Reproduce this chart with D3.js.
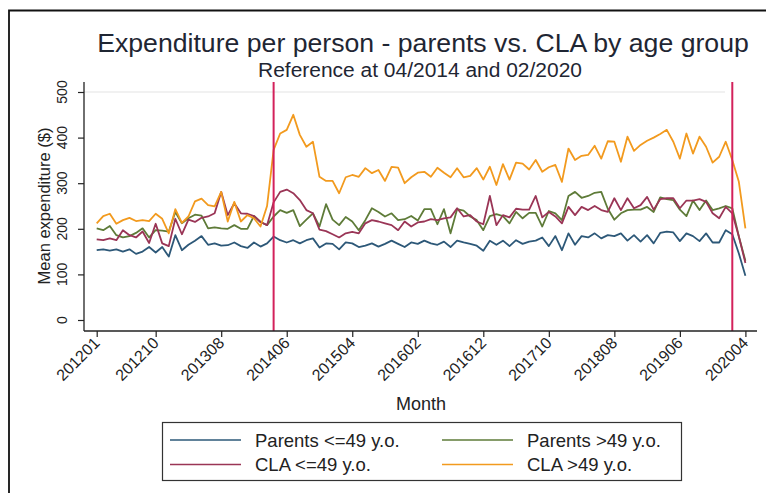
<!DOCTYPE html>
<html>
<head>
<meta charset="utf-8">
<script src="https://cdn.jsdelivr.net/npm/d3@7"></script>
<style>
  body { margin: 0; background: #fff; }
  svg { display: block; font-family: "Liberation Sans", Arial, sans-serif; }
</style>
</head>
<body>
<div id="chart"></div>
<script>
// monthly means, Jan 2012 .. Apr 2020
var parentsYoung = [153,155,152,155,150,155,145,150,160,148,160,139,186,153,165,174,184,165,168,
  163,164,170,162,158,170,161,168,
  183,175,170,175,168,175,179,159,168,167,155,170,
  168,160,163,168,161,167,174,167,160,170,167,174,168,165,172,160,174,170,167,163,
  152,174,165,174,162,175,167,172,174,181,162,184,153,190,165,184,181,190,179,186,
  184,190,174,186,172,186,168,191,194,192,173,190,184,173,190,170,170,197,188,146,97];
var parentsOld = [201,197,206,186,181,184,191,201,181,197,196,194,237,212,223,231,229,201,203,
  201,200,208,200,200,228,215,208,
  227,241,235,241,206,220,234,205,254,220,208,226,
  216,197,219,245,237,227,234,219,221,228,218,243,243,210,243,190,243,240,227,219,
  197,228,232,228,212,237,223,235,235,205,239,234,219,272,281,268,272,279,281,244,
  220,234,241,242,242,248,237,269,265,263,242,228,262,241,262,241,245,250,245,183,130];
var claYoung = [177,175,179,175,197,186,181,194,169,211,168,162,222,188,220,215,224,227,234,
  281,230,256,234,233,228,215,208,
  258,281,286,278,263,241,234,198,195,188,181,190,
  193,190,212,219,216,212,208,197,216,205,214,216,221,219,223,225,245,227,230,216,
  210,272,208,230,225,244,242,242,272,225,237,227,212,248,230,248,241,250,241,237,
  267,241,267,245,252,270,242,265,267,267,245,262,262,265,259,234,223,248,234,183,125];
var claOld = [212,228,233,211,219,224,217,219,217,233,222,190,243,213,227,260,266,252,249,
  281,216,259,216,230,223,205,250,
  373,409,417,450,406,380,391,314,305,305,278,313,
  318,314,333,322,329,305,336,334,300,313,323,325,314,334,323,313,333,313,316,333,
  308,336,296,342,308,345,343,330,351,325,335,340,303,376,351,360,362,382,354,392,
  391,347,402,371,384,393,400,408,417,391,354,409,365,402,380,345,358,391,351,303,201];

var seriesNames = ["Parents <=49 y.o.", "Parents >49 y.o.", "CLA <=49 y.o.", "CLA >49 y.o."];
var seriesColors = ["#2d5878", "#5e7b38", "#9a3556", "#f29a1e"];
var xTickLabels = ["201201","201210","201308","201406","201504","201602","201612","201710","201808","201906","202004"];
var yTicks = [0,100,200,300,400,500];
var refMonths = ["201404","202002"];

// month keys 201201 .. 202004
var months = d3.range(parentsYoung.length).map(function(i) {
    var yr = 2012 + Math.floor(i / 12);
    var mo = i % 12 + 1;
    return yr + (mo < 10 ? "0" : "") + mo;
});

var width = 766, height = 493;
var svg = d3.select("#chart").append("svg")
    .attr("width", width)
    .attr("height", height);

//outer frame, only top and left edges show in the picture
svg.append("path")
    .attr("d", "M9,500 V10.5 H780")
    .attr("fill", "none")
    .attr("stroke", "#111")
    .attr("stroke-width", 1.8);

var plot = {left: 84, right: 757, top: 82, bottom: 331};

var x = d3.scalePoint()
    .domain(months)
    .range([96.7, 745.4]);

var y = d3.scaleLinear()
    .domain([0, 500])
    .range([320, 92]);

// faint grid line at the top label
svg.append("line")
    .attr("x1", plot.left).attr("x2", 725)
    .attr("y1", y(500)).attr("y2", y(500))
    .attr("stroke", "#ececec")
    .attr("stroke-width", 1.5);

//series lines
var data = [parentsYoung, parentsOld, claYoung, claOld];
var line = d3.line()
    .x(function(d, i) { return x(months[i]); })
    .y(function(d) { return y(d); });

svg.append("g").selectAll("path")
    .data(data)
    .enter()
    .append("path")
    .attr("d", line)
    .attr("fill", "none")
    .attr("stroke", function(d, i) { return seriesColors[i]; })
    .attr("stroke-width", 1.8)
    .attr("stroke-linejoin", "round");

//reference lines
svg.append("g").selectAll("line")
    .data(refMonths)
    .enter()
    .append("line")
    .attr("x1", function(d) { return x(d); })
    .attr("x2", function(d) { return x(d); })
    .attr("y1", plot.top)
    .attr("y2", plot.bottom)
    .attr("stroke", "#d3215b")
    .attr("stroke-width", 2);

//axes
var xAxis = svg.append("g")
    .attr("transform", "translate(0," + plot.bottom + ")")
    .call(d3.axisBottom(x).tickValues(xTickLabels).tickSize(6).tickFormat(""));
xAxis.select(".domain").remove();
xAxis.selectAll(".tick line").attr("stroke", "#222").attr("stroke-width", 1.2);

svg.append("g").selectAll("text")
    .data(xTickLabels)
    .enter()
    .append("text")
    .attr("transform", function(d) { return "translate(" + (x(d) + 4) + "," + (plot.bottom + 13) + ") rotate(-45)"; })
    .attr("text-anchor", "end")
    .attr("font-size", 16)
    .attr("fill", "#222")
    .text(function(d) { return d; });

var yAxis = svg.append("g")
    .attr("transform", "translate(" + plot.left + ",0)")
    .call(d3.axisLeft(y).tickValues(yTicks).tickSize(6).tickFormat(""));
yAxis.select(".domain").remove();
yAxis.selectAll(".tick line").attr("stroke", "#222").attr("stroke-width", 1.2);

svg.append("g").selectAll("text")
    .data(yTicks)
    .enter()
    .append("text")
    .attr("transform", function(d) { return "translate(" + 67 + "," + y(d) + ") rotate(-90)"; })
    .attr("text-anchor", "middle")
    .attr("font-size", 14)
    .attr("fill", "#222")
    .text(function(d) { return d; });

svg.append("line")
    .attr("x1", plot.left).attr("x2", plot.right)
    .attr("y1", plot.bottom).attr("y2", plot.bottom)
    .attr("stroke", "#222").attr("stroke-width", 1.3);
svg.append("line")
    .attr("x1", plot.left).attr("x2", plot.left)
    .attr("y1", plot.top).attr("y2", plot.bottom)
    .attr("stroke", "#222").attr("stroke-width", 1.3);

//axis titles
svg.append("text")
    .attr("transform", "translate(50,206) rotate(-90)")
    .attr("text-anchor", "middle")
    .attr("font-size", 16.5)
    .attr("fill", "#222")
    .text("Mean expenditure ($)");

svg.append("text")
    .attr("x", 421)
    .attr("y", 410)
    .attr("text-anchor", "middle")
    .attr("font-size", 18)
    .attr("fill", "#222")
    .text("Month");

//titles, sized to the widths in the picture
function fitText(sel, target) {
    var w = sel.node().getComputedTextLength();
    var fs = +sel.attr("font-size");
    sel.attr("font-size", fs * target / w);
}
var title = svg.append("text")
    .attr("x", 423)
    .attr("y", 52)
    .attr("text-anchor", "middle")
    .attr("font-size", 26)
    .attr("fill", "#1f2633")
    .text("Expenditure per person - parents vs. CLA by age group");
fitText(title, 652);

var subtitle = svg.append("text")
    .attr("x", 420)
    .attr("y", 77)
    .attr("text-anchor", "middle")
    .attr("font-size", 20)
    .attr("fill", "#1f2633")
    .text("Reference at 04/2014 and 02/2020");
fitText(subtitle, 324);

//legend
var legend = svg.append("g");
legend.append("rect")
    .attr("x", 162.5).attr("y", 422.5)
    .attr("width", 519).attr("height", 58)
    .attr("fill", "#fff")
    .attr("stroke", "#333")
    .attr("stroke-width", 1.2);

var legendCols = [170, 442];
var legendRows = [440, 464.5];
var items = legend.selectAll("g.item")
    .data(seriesNames)
    .enter()
    .append("g")
    .attr("class", "item")
    .attr("transform", function(d, i) {
        return "translate(" + legendCols[i % 2] + "," + legendRows[Math.floor(i / 2)] + ")";
    });
items.append("line")
    .attr("x1", 0).attr("x2", 71)
    .attr("y1", 0).attr("y2", 0)
    .attr("stroke", function(d, i) { return seriesColors[i]; })
    .attr("stroke-width", 1.6);
items.append("text")
    .attr("x", 85)
    .attr("y", 6.5)
    .attr("font-size", 18.5)
    .attr("fill", "#222")
    .text(function(d) { return d; });
</script>
</body>
</html>
